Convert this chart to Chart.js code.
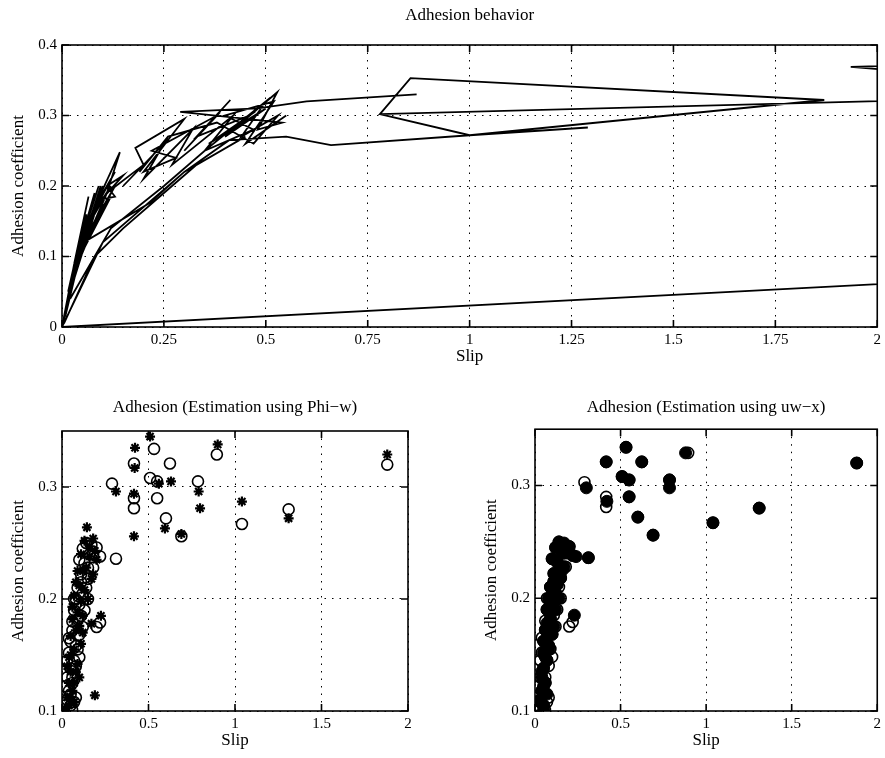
<!DOCTYPE html>
<html>
<head>
<meta charset="utf-8">
<script src="https://cdn.jsdelivr.net/npm/chart.js@4.4.1/dist/chart.umd.min.js"></script>
<style>
  html, body { margin: 0; padding: 0; background: #fff; }
  body { width: 885px; height: 758px; position: relative; overflow: hidden; }
  canvas { position: absolute; }
  #top { left: 0; top: 0; }
  #bl { left: 0; top: 375px; }
  #br { left: 442px; top: 375px; }
</style>
</head>
<body>
<canvas id="top" width="885" height="375"></canvas>
<canvas id="bl" width="442" height="383"></canvas>
<canvas id="br" width="443" height="383"></canvas>
<script>
/* DATA */
// top: slip / adhesion trajectory (null = pen up)
const slipTop = [
  0, 0.03, 0.005, 0.045, 0.01, 0.055, 0.008, 0.06, 0.012, 0.07, 0.015, 0.075, 0.02, 0.085, 0.02, 0.09,
  0.025, 0.1, 0.03, 0.11, 0.035, 0.12, 0.04, 0.095, 0.045, 0.13, 0.05,
  0.04, 0.01, 0.05, 0.015, 0.06, 0.02, 0.07, 0.025, 0.065, 0.03, 0.08, 0.035, 0.09, 0.045, 0.1,
  0.05, 0.12, 0.065, 0.13, 0.08, 0.1, 0.09, 0.13, 0.11, 0.15, 0.08, 0.142, 0.11, 0.2, 0.18, 0.3,
  0.2, 0.28, 0.22, 0.38, 0.3, 0.413, 0.33, 0.46, 0.36, 0.5, 0.4, 0.528, 0.48, 0.54, 0.29, 0.48,
  0.6, 0.87, null,
  0.15, 0.25, 0.2, 0.32, 0.27, 0.42, 0.35, 0.5, 0.44, 0.53, 0.47, 0.38, 0.26, 0.19, null,
  0.01, 0.05, 0.215, 0.3, 0.41, 0.55, 0.66, 1.0, 1.29, null,
  0.02, 0.12, 0.25, 0.35, 0.47, 0.4, 0.52, 0.45, 0.55, null,
  0, 0.1, 0.2, 0.3, 0.45, null,
  0.005, 0.08, 0.15, 0.25, 0.33, 0.42, null,
  2.3, 0.78, 0.855, 1.87, 1.0, 0.78, null,
  2.3, 1.935, 2.3, null,
  0, 2.3
];
const adhTop = [
  0, 0.09, 0.01, 0.125, 0.02, 0.15, 0.015, 0.14, 0.03, 0.16, 0.04, 0.18, 0.05, 0.17, 0.06, 0.185,
  0.07, 0.175, 0.08, 0.19, 0.09, 0.185, 0.1, 0.2, 0.11, 0.2, 0.12,
  0.11, 0.03, 0.14, 0.05, 0.16, 0.06, 0.17, 0.075, 0.185, 0.09, 0.19, 0.1, 0.2, 0.12, 0.195,
  0.13, 0.2, 0.15, 0.22, 0.17, 0.2, 0.18, 0.185, 0.2, 0.215, 0.17, 0.248, 0.19, 0.23, 0.254, 0.295,
  0.22, 0.24, 0.25, 0.3, 0.25, 0.322, 0.27, 0.3, 0.26, 0.31, 0.27, 0.333, 0.28, 0.29, 0.305, 0.31,
  0.32, 0.33, null,
  0.2, 0.26, 0.21, 0.28, 0.23, 0.3, 0.25, 0.32, 0.27, 0.3, 0.26, 0.29, 0.27, 0.22, null,
  0.02, 0.119, 0.176, 0.22, 0.265, 0.27, 0.258, 0.272, 0.283, null,
  0.04, 0.14, 0.2, 0.25, 0.28, 0.3, 0.32, 0.26, 0.3, null,
  0, 0.12, 0.17, 0.22, 0.27, null,
  0.005, 0.1, 0.14, 0.19, 0.23, 0.26, null,
  0.325, 0.302, 0.353, 0.322, 0.272, 0.302, null,
  0.375, 0.369, 0.352, null,
  0, 0.07
];
const xTicksTop = [0, 0.25, 0.5, 0.75, 1, 1.25, 1.5, 1.75, 2];
const xLabelsTop = ['0', '0.25', '0.5', '0.75', '1', '1.25', '1.5', '1.75', '2'];
const yTicksTop = [0, 0.1, 0.2, 0.3, 0.4];
const yLabelsTop = ['0', '0.1', '0.2', '0.3', '0.4'];

// measured adhesion (open circles, both lower plots)
const slipMeas = [
  0.532, 0.416, 0.624, 0.509, 0.55, 0.289, 0.786, 0.416, 0.416, 0.55, 0.601, 0.69, 0.895, 1.04, 1.31, 1.88, 0.312, 0.22,
  0.14, 0.17, 0.2, 0.12, 0.16, 0.22, 0.1, 0.13, 0.18, 0.11, 0.15, 0.09, 0.12, 0.08, 0.1, 0.07, 0.13, 0.09, 0.2,
  0.06, 0.1, 0.05, 0.08, 0.04, 0.07, 0.05, 0.03, 0.06, 0.04, 0.03, 0.05, 0.058, 0.02, 0.08, 0.12, 0.15, 0.11,
  0.18, 0.15, 0.07, 0.11, 0.06, 0.09, 0.04, 0.08, 0.03, 0.06, 0.02, 0.05, 0.1, 0.14, 0.07
];
const adhMeas = [
  0.334, 0.321, 0.321, 0.308, 0.305, 0.303, 0.305, 0.29, 0.281, 0.29, 0.272, 0.256, 0.329, 0.267, 0.28, 0.32, 0.236, 0.179,
  0.25, 0.248, 0.246, 0.245, 0.24, 0.238, 0.235, 0.232, 0.228, 0.222, 0.218, 0.21, 0.205, 0.2, 0.195, 0.19, 0.19, 0.182, 0.175,
  0.172, 0.168, 0.162, 0.158, 0.152, 0.145, 0.138, 0.13, 0.125, 0.118, 0.11, 0.105, 0.101, 0.105, 0.112, 0.175, 0.2, 0.215,
  0.24, 0.228, 0.2, 0.185, 0.18, 0.155, 0.165, 0.14, 0.145, 0.13, 0.122, 0.115, 0.148, 0.21, 0.108
];
// estimation using Phi-w (stars)
const slipPhi = [
  0.509, 0.422, 0.42, 0.63, 0.56, 0.312, 0.79, 0.798, 0.416, 0.595, 0.144, 0.18, 0.9, 1.04, 1.31, 1.88, 0.416, 0.69, 0.225, 0.19,
  0.13, 0.16, 0.19, 0.11, 0.2, 0.14, 0.09, 0.17, 0.1, 0.13, 0.07, 0.11, 0.06, 0.09, 0.12, 0.17, 0.08, 0.05, 0.11, 0.07,
  0.04, 0.09, 0.05, 0.1, 0.04, 0.06, 0.03, 0.07, 0.02, 0.15, 0.18,
  0.08, 0.12, 0.06, 0.1, 0.05, 0.08, 0.03, 0.06, 0.04, 0.12, 0.16, 0.07
];
const adhPhi = [
  0.345, 0.335, 0.317, 0.305, 0.303, 0.296, 0.296, 0.281, 0.294, 0.263, 0.264, 0.254, 0.338, 0.287, 0.272, 0.329, 0.256, 0.258, 0.185, 0.114,
  0.252, 0.247, 0.243, 0.24, 0.235, 0.228, 0.225, 0.218, 0.212, 0.208, 0.203, 0.198, 0.193, 0.188, 0.185, 0.178, 0.172, 0.167, 0.16, 0.155,
  0.148, 0.142, 0.135, 0.13, 0.125, 0.118, 0.112, 0.108, 0.102, 0.2, 0.222,
  0.215, 0.225, 0.182, 0.176, 0.15, 0.135, 0.14, 0.11, 0.105, 0.17, 0.238, 0.125
];
// estimation using uw-x (filled dots)
const slipUw = [
  0.532, 0.416, 0.624, 0.509, 0.55, 0.3, 0.786, 0.786, 0.42, 0.55, 0.601, 0.69, 0.88, 1.04, 1.31, 1.88, 0.312, 0.24,
  0.14, 0.17, 0.2, 0.12, 0.16, 0.22, 0.1, 0.13, 0.17, 0.11, 0.15, 0.09, 0.12, 0.08, 0.1, 0.07, 0.12, 0.09, 0.23,
  0.06, 0.1, 0.05, 0.08, 0.05, 0.07, 0.05, 0.04, 0.06, 0.04, 0.03, 0.05, 0.05, 0.03, 0.07, 0.11, 0.14, 0.11,
  0.16, 0.13, 0.09, 0.07, 0.06, 0.04, 0.08, 0.05
];
const adhUw = [
  0.334, 0.321, 0.321, 0.308, 0.305, 0.298, 0.305, 0.298, 0.286, 0.29, 0.272, 0.256, 0.329, 0.267, 0.28, 0.32, 0.236, 0.237,
  0.25, 0.249, 0.246, 0.245, 0.24, 0.238, 0.235, 0.232, 0.228, 0.222, 0.218, 0.21, 0.205, 0.2, 0.195, 0.19, 0.19, 0.182, 0.185,
  0.172, 0.168, 0.162, 0.158, 0.152, 0.145, 0.138, 0.13, 0.125, 0.118, 0.11, 0.105, 0.101, 0.108, 0.115, 0.175, 0.2, 0.215,
  0.225, 0.212, 0.17, 0.178, 0.148, 0.135, 0.155, 0.122
];
const xTicksLow = [0, 0.5, 1, 1.5, 2];
const xLabelsLow = ['0', '0.5', '1', '1.5', '2'];
const yTicksLow = [0.1, 0.2, 0.3];
const yLabelsLow = ['0.1', '0.2', '0.3'];

const FONT = '"Liberation Serif", "Times New Roman", serif';
const pts = (xs, ys) => xs.map((x, i) => ({ x: x, y: ys[i] }));

/* frame + inward ticks, matlab style */
const framePlugin = {
  id: 'frame',
  afterDatasetsDraw(chart) {
    const { ctx, chartArea: a, scales } = chart;
    ctx.save();
    ctx.strokeStyle = '#000';
    ctx.lineWidth = 1.6;
    ctx.strokeRect(a.left, a.top, a.right - a.left, a.bottom - a.top);
    ctx.beginPath();
    scales.x.ticks.forEach(t => {
      const p = scales.x.getPixelForValue(t.value);
      ctx.moveTo(p, a.bottom); ctx.lineTo(p, a.bottom - 7);
      ctx.moveTo(p, a.top); ctx.lineTo(p, a.top + 7);
    });
    scales.y.ticks.forEach(t => {
      const p = scales.y.getPixelForValue(t.value);
      ctx.moveTo(a.left, p); ctx.lineTo(a.left + 7, p);
      ctx.moveTo(a.right, p); ctx.lineTo(a.right - 7, p);
    });
    ctx.stroke();
    ctx.restore();
  }
};

function axes(xT, xL, xMin, xMax, yT, yL, yMin, yMax, xH) {
  const grid = { color: '#000', lineWidth: 1, drawTicks: false };
  const border = { display: false, dash: [1.5, 6] };
  return {
    x: {
      type: 'linear', min: xMin, max: xMax,
      afterBuildTicks: s => { s.ticks = xT.map(v => ({ value: v })); },
      afterFit: s => { s.height = xH; },
      grid, border,
      ticks: { color: '#000', padding: 4, font: { family: FONT, size: 15 }, callback: (v, i) => xL[i] },
      title: { display: true, text: 'Slip', color: '#000', font: { family: FONT, size: 17 }, padding: { top: 0, bottom: xH === 48 ? 7.8 : 6.8 } }
    },
    y: {
      type: 'linear', min: yMin, max: yMax,
      afterBuildTicks: s => { s.ticks = yT.map(v => ({ value: v })); },
      afterFit: s => { s.width = 62; },
      grid, border,
      ticks: { color: '#000', padding: 5, font: { family: FONT, size: 15 }, callback: (v, i) => yL[i] },
      title: { display: true, text: 'Adhesion coefficient', color: '#000', font: { family: FONT, size: 17 }, padding: { top: 8, bottom: 0 } }
    }
  };
}

function titleOpts(text, pt, pb) {
  return {
    display: true, text: text, color: '#000', fullSize: false,
    font: { family: FONT, size: 17, weight: 'normal' },
    padding: { top: pt, bottom: pb }
  };
}

/* TOP */
new Chart(document.getElementById('top'), {
  type: 'scatter',
  data: {
    datasets: [{
      data: pts(slipTop, adhTop),
      showLine: true, spanGaps: false,
      borderColor: '#000', borderWidth: 1.8,
      pointRadius: 0, tension: 0
    }]
  },
  options: {
    responsive: false, animation: false,
    layout: { padding: { left: 0, right: 5, top: 0, bottom: 0 } },
    plugins: { legend: { display: false }, tooltip: { enabled: false }, title: titleOpts('Adhesion behavior', 5.8, 18.8) },
    scales: axes(xTicksTop, xLabelsTop, 0, 2, yTicksTop, yLabelsTop, 0, 0.4, 48)
  },
  plugins: [framePlugin]
});

/* BOTTOM LEFT */
new Chart(document.getElementById('bl'), {
  type: 'scatter',
  data: {
    datasets: [
      { data: pts(slipPhi, adhPhi), pointStyle: 'star', pointRadius: 5, borderColor: '#000', borderWidth: 2.2, backgroundColor: '#000' },
      { data: pts(slipMeas, adhMeas), pointStyle: 'circle', pointRadius: 5.5, borderColor: '#000', borderWidth: 1.6, backgroundColor: 'rgba(0,0,0,0)' }
    ]
  },
  options: {
    responsive: false, animation: false,
    layout: { padding: { left: 0, right: 34, top: 0, bottom: 0 } },
    plugins: { legend: { display: false }, tooltip: { enabled: false }, title: titleOpts('Adhesion (Estimation using Phi\u2212w)', 22.8, 12.8) },
    scales: axes(xTicksLow, xLabelsLow, 0, 2, yTicksLow, yLabelsLow, 0.1, 0.35, 47)
  },
  plugins: [framePlugin]
});

/* BOTTOM RIGHT */
new Chart(document.getElementById('br'), {
  type: 'scatter',
  data: {
    datasets: [
      { data: pts(slipUw, adhUw), pointStyle: 'circle', pointRadius: 6, borderColor: '#000', borderWidth: 1, backgroundColor: '#000' },
      { data: pts(slipMeas, adhMeas), pointStyle: 'circle', pointRadius: 5.5, borderColor: '#000', borderWidth: 1.6, backgroundColor: 'rgba(0,0,0,0)' }
    ]
  },
  options: {
    responsive: false, animation: false,
    layout: { padding: { left: 31, right: 6, top: 0, bottom: 0 } },
    plugins: { legend: { display: false }, tooltip: { enabled: false }, title: titleOpts('Adhesion (Estimation using uw\u2212x)', 22.8, 11) },
    scales: axes(xTicksLow, xLabelsLow, 0, 2, yTicksLow, yLabelsLow, 0.1, 0.35, 47)
  },
  plugins: [framePlugin]
});
</script>
</body>
</html>
